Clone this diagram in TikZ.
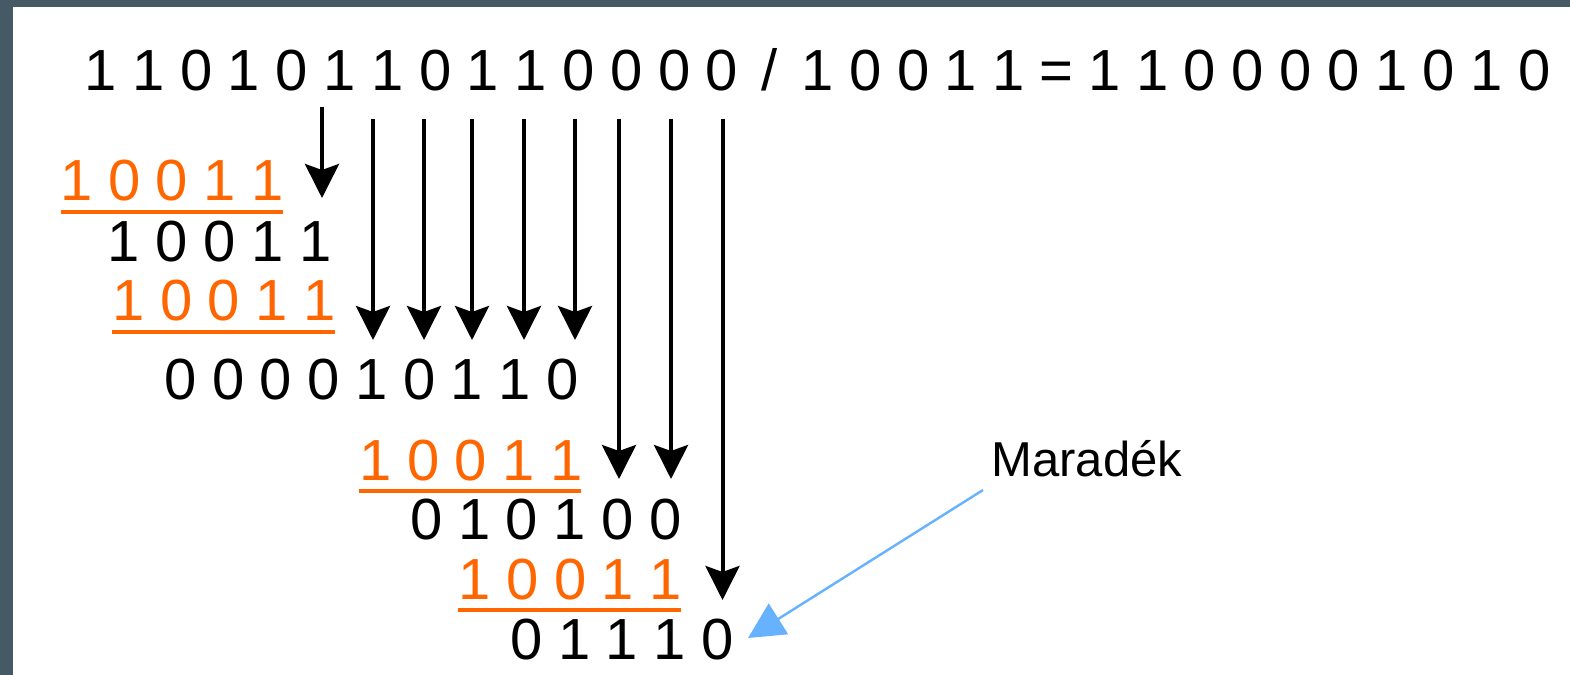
\documentclass[tikz,border=0pt]{standalone}
\usepackage{fontspec}
\setmainfont{Liberation Sans}
\usetikzlibrary{arrows.meta}

\definecolor{framecol}{HTML}{455A64}
\definecolor{subcol}{HTML}{FF6600}
\definecolor{notecol}{HTML}{66B2FF}

% every character of a bit string sits in a box of the same width
\newlength\bitpitch
\setlength\bitpitch{23.9pt}
\makeatletter
\def\bit@loop#1{\ifx#1\relax\else\makebox[\bitpitch][c]{#1}\expandafter\bit@loop\fi}
\newcommand\bitrow[1]{\bit@loop#1\relax}
\makeatother

\tikzset{
  bitline/.style={anchor=base west, inner sep=0pt, text=black,
                  font=\fontsize{29pt}{29pt}\selectfont},
  subrow/.style={bitline, text=subcol},
  subline/.style={draw=subcol, line width=1.85pt},
  drop/.style={draw=black, line width=2pt,
               -{Stealth[length=17pt,width=17pt,inset=3pt]}},
  remark/.style={draw=notecol, line width=1.2pt,
                 -{Triangle[length=18pt,width=18pt,fill=notecol]}},
  notetext/.style={anchor=base west, inner sep=0pt, text=black,
                   font=\fontsize{24.5pt}{24.5pt}\selectfont}
}

\begin{document}
\begin{tikzpicture}[x=0.5pt, y=-0.5pt]
  % canvas and frame
  \useasboundingbox (0,0) rectangle (1570,675);
  \fill[white] (0,0) rectangle (1570,675);
  \fill[framecol] (0,0) rectangle (1570,7);
  \fill[framecol] (0,0) rectangle (13,675);

  % the division and its steps
  \node[bitline] (div) at (76.5,90)   {\bitrow{1 1 0 1 0 1 1 0 1 1 0 0 0 0 / 1 0 0 1 1 = 1 1 0 0 0 0 1 0 1 0}};
  \node[subrow]  (s1)  at (52.3,200.7)  {\bitrow{1 0 0 1 1}};
  \node[bitline] (r1)  at (99.8,261)    {\bitrow{1 0 0 1 1}};
  \node[subrow]  (s2)  at (104.3,320.7) {\bitrow{1 0 0 1 1}};
  \node[bitline] (r2)  at (156.1,399.7) {\bitrow{0 0 0 0 1 0 1 1 0}};
  \node[subrow]  (s3)  at (351.1,480)   {\bitrow{1 0 0 1 1}};
  \node[bitline] (r3)  at (402.1,539.7) {\bitrow{0 1 0 1 0 0}};
  \node[subrow]  (s4)  at (450.4,599)   {\bitrow{1 0 0 1 1}};
  \node[bitline] (rem) at (502.1,659)   {\bitrow{0 1 1 1 0}};

  % subtraction rules
  \draw[subline] (60.7,212)  -- (282.7,212);
  \draw[subline] (111.7,332) -- (335,332);
  \draw[subline] (359,491)   -- (581,491);
  \draw[subline] (458,610)   -- (681,610);

  % bits brought down
  \coordinate (a0s) at (322,106.7);
  \coordinate (a0e) at (322,198);
  \draw[drop] (a0s) -- (a0e);
  \foreach \x/\y [count=\i] in {373/340, 424/340, 472/340, 524/340, 575/340,
                                619/479, 671/479, 722.5/600} {
    \coordinate (a\i s) at (\x,119.3);
    \coordinate (a\i e) at (\x,\y);
    \draw[drop] (a\i s) -- (a\i e);
  }

  % remainder note
  \node[notetext] (mar) at (991,476) {Maradék};
  \coordinate (ms) at (983,490);
  \coordinate (me) at (748,638);
  \draw[remark] (ms) -- (me);
\end{tikzpicture}
\end{document}
